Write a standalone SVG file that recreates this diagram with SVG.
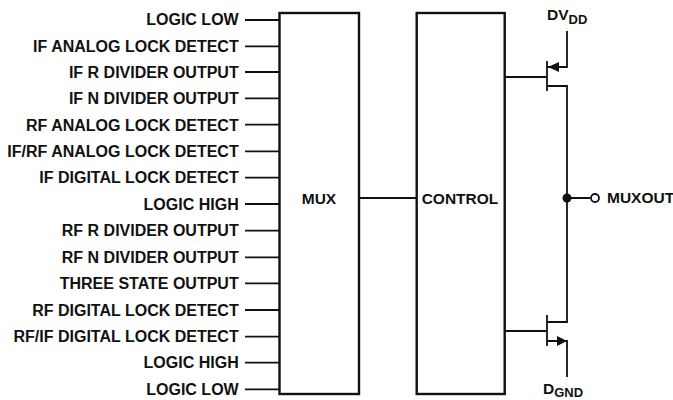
<svg xmlns="http://www.w3.org/2000/svg" width="673" height="400" viewBox="0 0 673 400">
<style>
text{font-family:"Liberation Sans",Arial,sans-serif;font-weight:700;font-size:15.5px;fill:#111}
.l{text-anchor:end;font-size:16px}
.box{fill:#fff;stroke:#111;stroke-width:2.4}
.w{fill:none;stroke:#111;stroke-width:1.8}
.sub{font-size:13px}
</style>
<g id="connectors">
<path class="w" d="M245 20H279M245 46.300H279M245 72H279M245 98.300H279M245 124.700H279M245 151.300H279M245 177.700H279M245 204H279M245 230.700H279M245 257.300H279M245 283.300H279M245 310H279M245 336.700H279M245 362.700H279M245 389.300H279"/>
<path class="w" d="M359 198H417"/>
<path class="w" d="M505 77H547M547 61V91M547 67H567V31M547 86H567V322H547M505 331H547M547 315V346M547 341H567V377M567 198H590"/>
<path d="M548 67L559 62V72Z" fill="#111"/>
<path d="M567 341L557 336V346Z" fill="#111"/>
<circle cx="567" cy="198" r="4.500" fill="#111"/>
<circle cx="595" cy="198" r="4" fill="#fff" stroke="#111" stroke-width="1.8"/>
</g>
<g id="mux"><rect class="box" x="279.500" y="13" width="79.500" height="381"/><text x="319" y="203.500" text-anchor="middle">MUX</text></g>
<g id="control"><rect class="box" x="416.700" y="13" width="88" height="381"/><text x="460" y="203.500" text-anchor="middle">CONTROL</text></g>
<g id="inputs">
<text class="l" x="238.700" y="25.300">LOGIC LOW</text>
<text class="l" x="238.700" y="51.700">IF ANALOG LOCK DETECT</text>
<text class="l" x="238.700" y="77.700">IF R DIVIDER OUTPUT</text>
<text class="l" x="238.700" y="104">IF N DIVIDER OUTPUT</text>
<text class="l" x="238.700" y="130.500">RF ANALOG LOCK DETECT</text>
<text class="l" x="238.700" y="157">IF/RF ANALOG LOCK DETECT</text>
<text class="l" x="238.700" y="183.300">IF DIGITAL LOCK DETECT</text>
<text class="l" x="238.700" y="209.500">LOGIC HIGH</text>
<text class="l" x="238.700" y="236.200">RF R DIVIDER OUTPUT</text>
<text class="l" x="238.700" y="262.700">RF N DIVIDER OUTPUT</text>
<text class="l" x="238.700" y="289">THREE STATE OUTPUT</text>
<text class="l" x="238.700" y="315.500">RF DIGITAL LOCK DETECT</text>
<text class="l" x="238.700" y="342">RF/IF DIGITAL LOCK DETECT</text>
<text class="l" x="238.700" y="368.200">LOGIC HIGH</text>
<text class="l" x="238.700" y="394.500">LOGIC LOW</text>
</g>
<g id="dvdd"><text x="547" y="20">DV<tspan class="sub" dy="4">DD</tspan></text></g>
<g id="dgnd"><text x="543" y="394">D<tspan class="sub" dy="2.500">GND</tspan></text></g>
<g id="muxout"><text x="607" y="202.500">MUXOUT</text></g>
</svg>
